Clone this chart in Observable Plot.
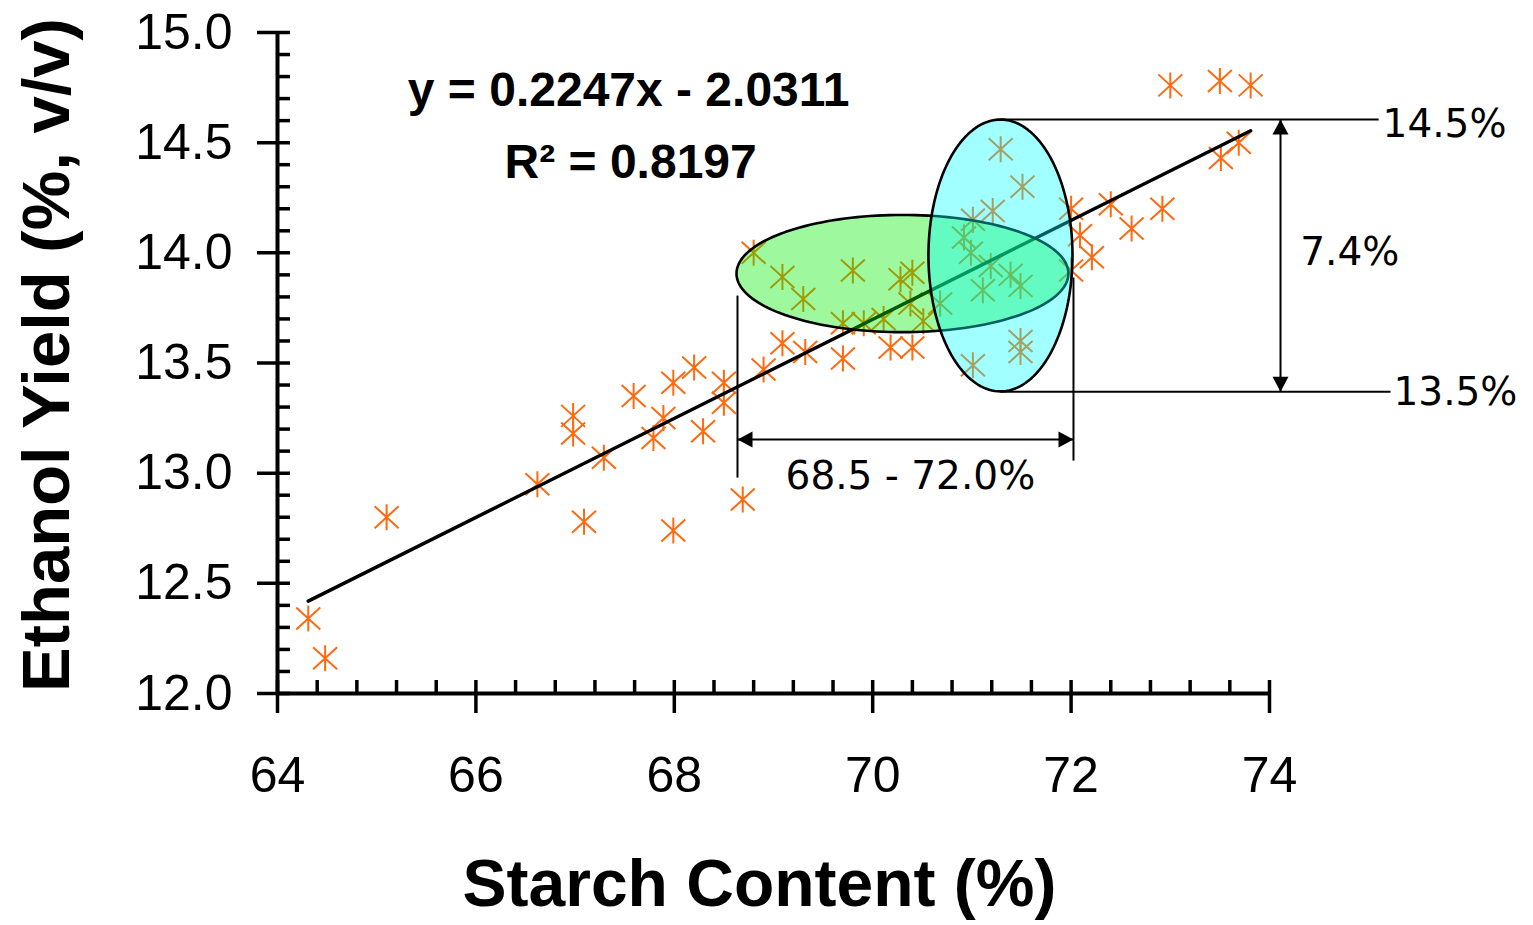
<!DOCTYPE html>
<html>
<head>
<meta charset="utf-8">
<script src="https://cdn.jsdelivr.net/npm/d3@7"></script>
<script src="https://cdn.jsdelivr.net/npm/@observablehq/plot@0.6"></script>
<style>
  html, body { margin: 0; padding: 0; background: #ffffff; }
  #chart svg { display: block; }
</style>
</head>
<body>
<div id="chart"></div>
<script>
// ---------- data ----------
const starch = [64.31, 64.48, 65.10, 66.62, 66.98, 66.98, 67.09, 67.29, 67.59, 67.79,
  67.89, 67.99, 67.99, 68.20, 68.29, 68.50, 68.50, 68.69, 68.80, 68.90,
  69.09, 69.09, 69.30, 69.32, 69.70, 69.70, 69.80, 69.91, 70.11, 70.18,
  70.28, 70.40, 70.38, 70.40, 70.51, 70.68, 70.92, 70.99, 71.01, 71.21,
  71.29, 71.51, 71.11, 71.19, 71.39, 71.49, 71.01, 71.49, 71.49, 72.00,
  72.00, 72.09, 72.21, 72.40, 72.61, 72.92, 73.00, 73.50, 73.81, 73.51, 73.69];
const ethanol = [12.34, 12.16, 12.80, 12.95, 13.26, 13.18, 12.78, 13.07, 13.35, 13.16,
  13.25, 13.41, 12.74, 13.48, 13.19, 13.41, 13.32, 12.88, 14.00, 13.47,
  13.89, 13.59, 13.79, 13.55, 13.68, 13.52, 13.92, 13.68, 13.70, 13.57,
  13.88, 13.91, 13.77, 13.57, 13.69, 13.77, 14.07, 14.00, 14.15, 14.19,
  14.47, 14.30, 13.83, 13.94, 13.90, 13.85, 13.49, 13.55, 13.60, 14.20,
  13.92, 14.08, 13.98, 14.22, 14.11, 14.20, 14.76, 14.78, 14.76, 14.43, 14.50];
const trendSlope = 0.2247;
const trendIntercept = -2.0311;
const equationLabels = ["y = 0.2247x - 2.0311", "R\u00B2 = 0.8197"];

const xMajorTicks = [64, 66, 68, 70, 72, 74];
const xMinorTicks = [64.4, 64.8, 65.2, 65.6, 66.4, 66.8, 67.2, 67.6, 68.4, 68.8,
  69.2, 69.6, 70.4, 70.8, 71.2, 71.6, 72.4, 72.8, 73.2, 73.6];
const yMajorTicks = [12, 12.5, 13, 13.5, 14, 14.5, 15];
const yMinorTicks = [12.1, 12.2, 12.3, 12.4, 12.6, 12.7, 12.8, 12.9, 13.1, 13.2, 13.3, 13.4,
  13.6, 13.7, 13.8, 13.9, 14.1, 14.2, 14.3, 14.4, 14.6, 14.7, 14.8, 14.9];

const xTitle = "Starch Content (%)";
const yTitle = "Ethanol Yield (%, v/v)";

// annotation geometry (data units)
const greenEllipse = {cx: 70.30, cy: 13.906, rx: 1.673, ry: 0.266};
const cyanEllipse = {cx: 71.288, cy: 13.988, rx: 0.726, ry: 0.617};
const annoText = ["14.5%", "7.4%", "13.5%", "68.5 - 72.0%"];

// ---------- build ----------
const points = starch.map((s, i) => ({x: s, y: ethanol[i]}));
const xMin = d3.min(starch), xMax = d3.max(starch);
const trend = [xMin, xMax].map(x => ({x, y: trendSlope * x + trendIntercept}));

function ellipsePoly(e) {
  const n = 160;
  return d3.range(n).map(i => {
    const t = (i / n) * 2 * Math.PI;
    return {x: e.cx + e.rx * Math.cos(t), y: e.cy + e.ry * Math.sin(t)};
  });
}

const asterisk = {
  draw(ctx) {
    ctx.moveTo(0, -13); ctx.lineTo(0, 13);
    ctx.moveTo(-12, -11); ctx.lineTo(12, 11);
    ctx.moveTo(-12, 11); ctx.lineTo(12, -11);
  }
};
const head = (dx1, dy1, dx2, dy2) => ({
  draw(ctx) { ctx.moveTo(0, 0); ctx.lineTo(dx1, dy1); ctx.lineTo(dx2, dy2); ctx.closePath(); }
});
const headUp = head(8, 15, -8, 15);
const headDown = head(8, -15, -8, -15);
const headLeft = head(15, -8, 15, 8);
const headRight = head(-15, -8, -15, 8);

const topY = 14.605, botY = 13.37;
const arrowX = 74.111;
const bracketL = 68.637, bracketR = 72.024, bracketY = 13.153;

const links = [
  {x1: cyanEllipse.cx, y1: topY, x2: 75.10, y2: topY},
  {x1: cyanEllipse.cx, y1: botY, x2: 75.22, y2: botY},
  {x1: arrowX, y1: topY, x2: arrowX, y2: botY},
  {x1: bracketL, y1: 13.806, x2: bracketL, y2: 12.98},
  {x1: bracketR, y1: 13.888, x2: bracketR, y2: 13.057},
  {x1: bracketL, y1: bracketY, x2: bracketR, y2: bracketY}
];

const W = 1533, H = 925;
const mL = 277, mR = 264, mT = 32, mB = 232;
const frameW = W - mL - mR, frameH = H - mT - mB;

const fontMain = "'Liberation Sans', Arial, sans-serif";
const fontAnno = "'DejaVu Sans', Verdana, sans-serif";

const chart = Plot.plot({
  width: W, height: H,
  marginLeft: mL, marginRight: mR, marginTop: mT, marginBottom: mB,
  style: {fontFamily: fontMain, background: "#ffffff", color: "#000000"},
  x: {domain: [64, 74]},
  y: {domain: [12, 15]},
  marks: [
    // data
    Plot.dot(points, {x: "x", y: "y", symbol: asterisk, fill: "none", stroke: "#ff6a10", strokeWidth: 2}),
    Plot.line(trend, {x: "x", y: "y", stroke: "#000000", strokeWidth: 3.5}),
    // ellipses
    Plot.line(ellipsePoly(greenEllipse), {x: "x", y: "y", curve: "linear-closed", fill: "#00ee00", fillOpacity: 0.38, stroke: "#000000", strokeWidth: 2.6}),
    Plot.line(ellipsePoly(cyanEllipse), {x: "x", y: "y", curve: "linear-closed", fill: "#00ffff", fillOpacity: 0.37, stroke: "#000000", strokeWidth: 2.6}),
    // annotation lines & arrowheads
    Plot.link(links, {x1: "x1", y1: "y1", x2: "x2", y2: "y2", stroke: "#000000", strokeWidth: 2}),
    Plot.dot([{x: arrowX, y: topY}], {x: "x", y: "y", symbol: headUp, fill: "#000000", stroke: "none"}),
    Plot.dot([{x: arrowX, y: botY}], {x: "x", y: "y", symbol: headDown, fill: "#000000", stroke: "none"}),
    Plot.dot([{x: bracketL, y: bracketY}], {x: "x", y: "y", symbol: headLeft, fill: "#000000", stroke: "none"}),
    Plot.dot([{x: bracketR, y: bracketY}], {x: "x", y: "y", symbol: headRight, fill: "#000000", stroke: "none"}),
    Plot.text([annoText[0]], {x: 75.14, y: 14.582, textAnchor: "start", fontFamily: fontAnno, fontSize: 39, fill: "#000000"}),
    Plot.text([annoText[1]], {x: 74.31, y: 14.0, textAnchor: "start", fontFamily: fontAnno, fontSize: 39, fill: "#000000"}),
    Plot.text([annoText[2]], {x: 75.25, y: 13.366, textAnchor: "start", fontFamily: fontAnno, fontSize: 39, fill: "#000000"}),
    Plot.text([annoText[3]], {x: 70.38, y: 12.985, textAnchor: "middle", fontFamily: fontAnno, fontSize: 39, fill: "#000000"}),
    // equation
    Plot.text([equationLabels[0]], {x: 67.54, y: 14.737, fontSize: 48, fontWeight: "bold", fill: "#000000"}),
    Plot.text([equationLabels[1]], {x: 67.56, y: 14.41, fontSize: 48, fontWeight: "bold", fill: "#000000"}),
    // axes
    Plot.ruleX([64], {stroke: "#000000", strokeWidth: 4}),
    Plot.ruleY([12], {stroke: "#000000", strokeWidth: 4}),
    Plot.tickX(xMinorTicks, {x: d => d, insetTop: frameH - 13, stroke: "#000000", strokeWidth: 3.5}),
    Plot.tickX(xMajorTicks, {x: d => d, insetTop: frameH - 13, insetBottom: -20, stroke: "#000000", strokeWidth: 3.5}),
    Plot.tickY(yMinorTicks, {y: d => d, insetRight: frameW - 13, stroke: "#000000", strokeWidth: 3.5}),
    Plot.tickY(yMajorTicks, {y: d => d, insetLeft: -20, insetRight: frameW - 13, stroke: "#000000", strokeWidth: 3.5}),
    Plot.axisX({ticks: xMajorTicks, tickSize: 0, tickPadding: 63, fontSize: 50, label: null, tickFormat: d => String(d)}),
    Plot.axisY({ticks: yMajorTicks, tickSize: 0, tickPadding: 45, fontSize: 50, label: null, tickFormat: d3.format(".1f")}),
    Plot.text([xTitle], {frameAnchor: "bottom", textAnchor: "middle", dx: -14, dy: 212, fontSize: 66, fontWeight: "bold", fill: "#000000"}),
    Plot.text([yTitle], {frameAnchor: "left", textAnchor: "middle", rotate: -90, dx: -230, dy: -8, fontSize: 67, fontWeight: "bold", fill: "#000000"})
  ]
});
document.getElementById("chart").appendChild(chart);
</script>
</body>
</html>
